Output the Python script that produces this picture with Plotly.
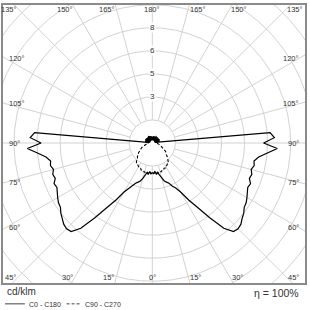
import numpy as np
import plotly.graph_objects as go

# ---------------- data (cd/klm) ----------------
gamma_deg = [0, 2.5, 5, 7.5, 10, 12.5, 15, 17.5, 20, 22.5, 25, 27.5, 30, 32.5, 35, 37.5,
             40, 42.5, 45, 47.5, 50, 52.5, 55, 57.5, 60, 62.5, 65, 67.5, 70, 72.5, 75, 77.5,
             80, 82.5, 85, 87.5, 90, 92.5, 95, 97.5, 100, 102.5, 105, 107.5, 110, 112.5, 115,
             117.5, 120, 122.5, 125, 127.5, 130, 132.5, 135, 137.5, 140, 142.5, 145, 147.5,
             150, 152.5, 155, 157.5, 160, 162.5, 165, 167.5, 170, 172.5, 175, 177.5, 180]

c0_c180 = [1.94, 2.00, 1.87, 2.07, 1.94, 2.13, 2.39, 2.59, 2.71, 2.84, 3.10, 3.30, 3.68, 4.40,
           5.11, 6.14, 7.24, 7.82, 7.89, 7.82, 7.63, 7.50, 7.30, 7.24, 7.11, 6.98, 6.85, 6.92,
           6.72, 6.79, 6.66, 6.79, 6.72, 6.98, 7.50, 8.14, 7.24, 7.95, 7.69, 0.30,
           0.42, 0.18, 0.48, 0.22, 0.40, 0.15, 0.52, 0.25, 0.38, 0.20, 0.50, 0.18, 0.44, 0.26,
           0.36, 0.16, 0.48, 0.22, 0.40, 0.28, 0.52, 0.18, 0.44, 0.24, 0.38, 0.20, 0.46, 0.26,
           0.34, 0.18, 0.42, 0.30, 0.36]

c90_c270 = [1.94, 2.00, 1.87, 2.00, 1.94, 2.02, 1.94, 1.96, 1.87, 1.90, 1.81, 1.84, 1.75, 1.74,
            1.68, 1.70, 1.62, 1.52, 1.36, 1.32, 1.20, 1.16, 1.08, 1.03, 0.92, 0.86, 0.78, 0.72,
            0.64, 0.60, 0.52, 0.48, 0.40, 0.36, 0.30, 0.32, 0.26, 0.30, 0.22, 0.28,
            0.30, 0.45, 0.20, 0.40, 0.26, 0.50, 0.18, 0.42, 0.28, 0.36, 0.16, 0.46, 0.24, 0.40,
            0.30, 0.50, 0.20, 0.38, 0.26, 0.44, 0.16, 0.40, 0.30, 0.48, 0.22, 0.36, 0.28, 0.44,
            0.20, 0.40, 0.26, 0.38, 0.36]

ring_values = [1.5, 3.0, 4.5, 6.0, 7.5, 9.0, 10.5, 12.0, 13.5]
ring_label_values = [3.0, 4.5, 6.0, 7.5]
ring_label_texts = ["3", "5", "6", "8"]

spoke_angles = [0, 15, 30, 45, 60, 75, 90, 105, 120, 135, 150, 165, 180,
                195, 210, 225, 240, 255, 270, 285, 300, 315, 330, 345]

angle_label_values = [0, 15, 30, 45, 60, 75, 90, 105, 120, 135, 150, 165, 180]
angle_label_texts = ["0°", "15°", "30°", "45°", "60°", "75°", "90°", "105°", "120°",
                     "135°", "150°", "165°", "180°"]

unit_label = "cd/klm"
eff_label = "η = 100%"
legend_names = ["C0 - C180", "C90 - C270"]

# ---------------- geometry ----------------
XR = [-9.716, 9.935]
YR = [-9.114, 8.985]
FONT = "Liberation Sans"
GRID = "#d2d2d2"
TXT = "#333333"

g = np.radians(np.array(gamma_deg))


def half_curve(vals):
    r = np.array(vals)
    xl = -(r * np.sin(g))[::-1]
    yl = -(r * np.cos(g))[::-1]
    xr = r * np.sin(g)
    yr = -r * np.cos(g)
    return np.concatenate([xl, xr]), np.concatenate([yl, yr])


fig = go.Figure()

# grid circles
t = np.linspace(0, 2 * np.pi, 721)
gx, gy = [], []
for rv in ring_values:
    gx += list(rv * np.cos(t)) + [None]
    gy += list(rv * np.sin(t)) + [None]
# spokes
for a in spoke_angles:
    ar = np.radians(a)
    gx += [1.5 * np.sin(ar), 16 * np.sin(ar), None]
    gy += [-1.5 * np.cos(ar), -16 * np.cos(ar), None]
fig.add_trace(go.Scatter(x=gx, y=gy, mode="lines", line=dict(color=GRID, width=1),
                         hoverinfo="skip", showlegend=False))

# curves
x2, y2 = half_curve(c90_c270)
fig.add_trace(go.Scatter(x=x2, y=y2, mode="lines", name=legend_names[1],
                         line=dict(color="black", width=1.1, dash="3px,2px"),
                         showlegend=False))
x1, y1 = half_curve(c0_c180)
fig.add_trace(go.Scatter(x=x1, y=y1, mode="lines", name=legend_names[0],
                         line=dict(color="black", width=1.2), showlegend=False))

ann = []
# ring labels
for rv, txt in zip(ring_label_values, ring_label_texts):
    ann.append(dict(x=0, y=rv, xref="x", yref="y", text=txt, showarrow=False,
                    font=dict(family=FONT, size=8, color=TXT), bgcolor="white",
                    borderpad=0, xanchor="center", yanchor="middle"))

# angle labels
YB = -8.73
YT = 8.66
XE = 9.5
for a, txt in zip(angle_label_values, angle_label_texts):
    ar = np.radians(a)
    if a <= 45 or a >= 135:
        yy = YB if a <= 45 else YT
        xx = abs(yy) * abs(np.tan(ar))
        for side in ([1] if a in (0, 180) else [-1, 1]):
            anc = "center" if a in (0, 180) else ("left" if side > 0 else "right")
            ann.append(dict(x=side * xx, y=yy, xref="x", yref="y", text=txt,
                            showarrow=False, font=dict(family=FONT, size=7.5, color=TXT),
                            xanchor=anc, yanchor="middle"))
    else:
        yy = -XE * np.cos(ar) / np.sin(ar)
        ann.append(dict(x=-9.46, y=yy, xref="x", yref="y", text=txt, showarrow=False,
                        font=dict(family=FONT, size=7.5, color=TXT), xanchor="left",
                        yanchor="middle"))
        ann.append(dict(x=9.68, y=yy, xref="x", yref="y", text=txt, showarrow=False,
                        font=dict(family=FONT, size=7.5, color=TXT), xanchor="right",
                        yanchor="middle"))

# bottom texts
ann.append(dict(x=0.0066, y=-0.032, xref="paper", yref="paper", text=unit_label,
                showarrow=False, font=dict(family=FONT, size=10, color=TXT),
                xanchor="left", yanchor="middle"))
ann.append(dict(x=0.987, y=-0.036, xref="paper", yref="paper", text=eff_label,
                showarrow=False, font=dict(family=FONT, size=10.5, color=TXT),
                xanchor="right", yanchor="middle"))
ann.append(dict(x=0.079, y=-0.077, xref="paper", yref="paper", text=legend_names[0],
                showarrow=False, font=dict(family=FONT, size=7, color=TXT),
                xanchor="left", yanchor="middle"))
ann.append(dict(x=0.266, y=-0.077, xref="paper", yref="paper", text=legend_names[1],
                showarrow=False, font=dict(family=FONT, size=7, color=TXT),
                xanchor="left", yanchor="middle"))

shapes = [
    dict(type="line", xref="paper", yref="paper", x0=0.0066, x1=0.0724, y0=-0.075, y1=-0.075,
         line=dict(color="#444", width=1)),
    dict(type="line", xref="paper", yref="paper", x0=0.2105, x1=0.26, y0=-0.075, y1=-0.075,
         line=dict(color="#444", width=1, dash="3px,2px")),
]

ax = dict(showgrid=False, zeroline=False, showticklabels=False, ticks="",
          showline=True, mirror=True, linecolor="#8a8a8a", linewidth=2, fixedrange=True)
fig.update_layout(
    width=310, height=310,
    margin=dict(l=3, r=3, t=3, b=27),
    paper_bgcolor="white", plot_bgcolor="white",
    xaxis=dict(range=XR, **ax),
    yaxis=dict(range=YR, **ax),
    annotations=ann, shapes=shapes, showlegend=False,
)

fig.write_html("out.html")
